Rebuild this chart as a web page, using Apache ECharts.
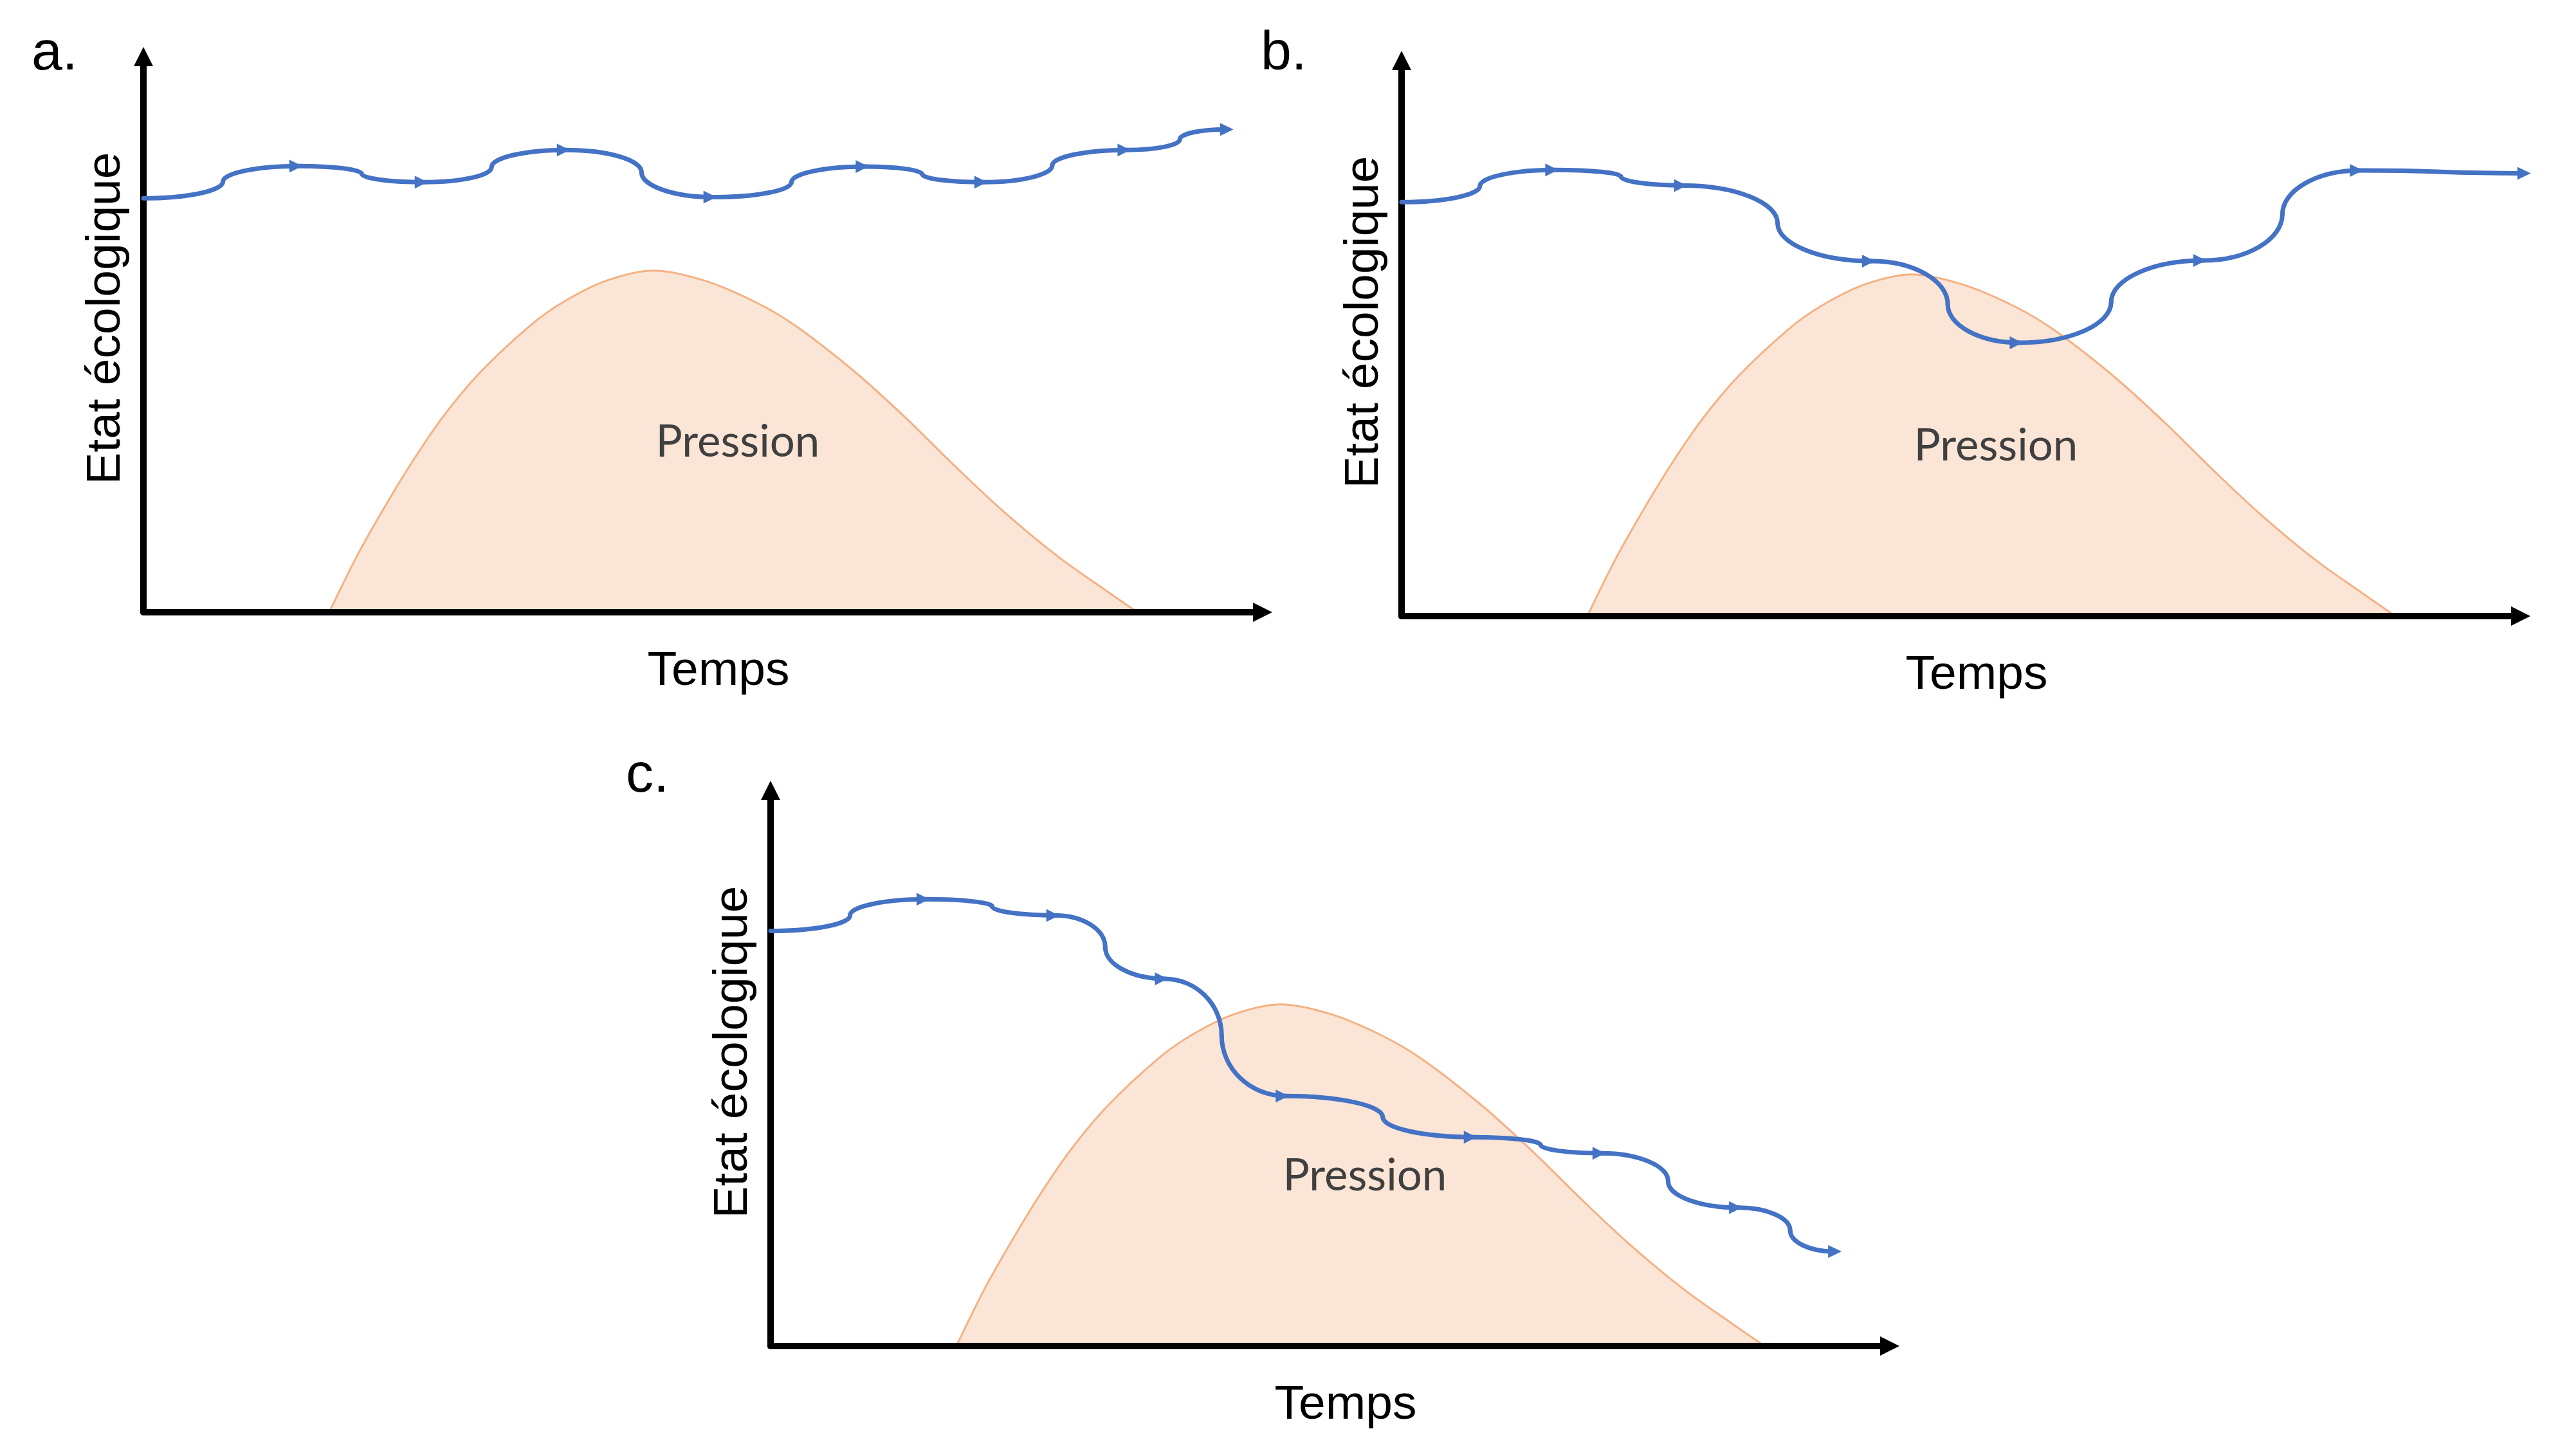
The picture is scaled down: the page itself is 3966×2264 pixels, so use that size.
<!DOCTYPE html>
<html>
<head>
<meta charset="utf-8">
<script src="https://cdn.jsdelivr.net/npm/echarts@6/dist/echarts.min.js"></script>
<style>
html, body { margin: 0; padding: 0; background: #ffffff; }
#chart { width: 3966px; height: 2264px; }
</style>
</head>
<body>
<div id="chart"></div>
<script>
// ---------- data ----------
const panelLabels = ['a.', 'b.', 'c.'];
const xName = 'Temps';
const yName = 'Etat écologique';
const pressureLabel = 'Pression';

// pressure curve (same in every panel)
const pressureX = [16.6, 19.1, 21.4, 23.9, 26.7, 30.1, 34.5, 37.4, 41.4, 45.6, 50.1, 54.8, 58.3, 63.6, 68.1, 72.3, 76.7, 81.6, 86.0, 88.8];
const pressureY = [0, 10.2, 18.4, 26.7, 35.0, 43.2, 51.5, 55.7, 59.7, 61.5, 59.7, 55.7, 51.5, 43.2, 35.0, 26.7, 18.4, 10.2, 3.9, 0];
const pressureLabelPos = [53.1, 30.6];

// ecological state trajectories: s = start, v = turning step, a = arrow, e = end arrow
const aX = [0, 7.1, 13.9, 19.5, 25.1, 31.1, 37.8, 44.5, 50.9, 57.9, 64.5, 69.6, 75.1, 81.2, 87.9, 92.6, 97.4];
const aY = [74.5, 77.5, 80.3, 78.9, 77.4, 80.1, 83.2, 79.2, 74.7, 77.4, 80.2, 78.8, 77.4, 80.4, 83.2, 85.1, 86.9];
const aKind = ['s','v','a','v','a','v','a','v','a','v','a','v','a','v','a','v','e'];

const bX = [0, 7.0, 13.7, 19.6, 25.2, 33.6, 42.0, 48.8, 55.2, 63.4, 71.6, 78.7, 85.6, 100.9];
const bY = [74.5, 77.4, 80.3, 79.1, 77.5, 70.7, 63.9, 56.1, 49.2, 56.5, 64.0, 72.3, 80.2, 79.7];
const bKind = ['s','v','a','v','a','v','a','v','a','v','a','v','a','e'];

const cX = [0, 7.1, 13.9, 19.8, 25.5, 29.9, 35.2, 40.3, 46.0, 54.7, 62.8, 68.8, 74.3, 80.2, 86.5, 91.1, 95.7];
const cY = [74.7, 77.5, 80.4, 79.1, 77.5, 71.8, 66.1, 55.9, 45.0, 41.2, 37.6, 36.2, 34.7, 29.6, 24.9, 20.8, 17.0];
const cKind = ['s','v','a','v','a','v','a','v','a','v','a','v','a','v','a','v','e'];

// ---------- layout / style ----------
const grids = [
  { left: 223, top: 88, width: 1740, height: 864 },
  { left: 2179, top: 94, width: 1740, height: 864 },
  { left: 1198, top: 1229, width: 1740, height: 864 }
];
const labelPos = [[49, 86], [1960, 86], [973, 1209]];
const BLUE = '#4472C4';

function segments(xs, ys, kinds) {
  const tan = k => (k === 'v' ? 1 : 0);
  const mark = k => (k === 'a' ? 1 : (k === 'e' ? 2 : 0));
  const rows = [];
  for (let i = 1; i < xs.length; i++) {
    rows.push([xs[i - 1], ys[i - 1], xs[i], ys[i], tan(kinds[i - 1]), tan(kinds[i]), mark(kinds[i])]);
  }
  return rows;
}

function renderCurve(params, api) {
  const p = api.coord([api.value(0), api.value(1)]);
  const q = api.coord([api.value(2), api.value(3)]);
  const t1 = api.value(4), t2 = api.value(5), m = api.value(6);
  const qq = m === 2 ? [q[0] - 12, q[1]] : [q[0], q[1]];
  const k = 0.55;
  const dx = qq[0] - p[0], dy = qq[1] - p[1];
  const c1 = t1 === 0 ? [p[0] + k * dx, p[1]] : [p[0], p[1] + k * dy];
  const c2 = t2 === 0 ? [qq[0] - k * dx, qq[1]] : [qq[0], qq[1] - k * dy];
  const children = [{
    type: 'bezierCurve',
    shape: { x1: p[0], y1: p[1], x2: qq[0], y2: qq[1], cpx1: c1[0], cpy1: c1[1], cpx2: c2[0], cpy2: c2[1] },
    style: { stroke: BLUE, lineWidth: 7, fill: null, lineCap: 'round' }
  }];
  if (m === 1) {
    children.push({ type: 'polygon', shape: { points: [[q[0] - 15, q[1] - 10], [q[0] - 15, q[1] + 10], [q[0] + 5, q[1]]] }, style: { fill: BLUE } });
  } else if (m === 2) {
    children.push({ type: 'polygon', shape: { points: [[q[0] - 21, q[1] - 10], [q[0] - 21, q[1] + 10], [q[0], q[1]]] }, style: { fill: BLUE } });
  }
  return { type: 'group', children };
}

const pressureData = pressureX.map((x, i) => [x, pressureY[i]]);
const curves = [segments(aX, aY, aKind), segments(bX, bY, bKind), segments(cX, cY, cKind)];

const axisLine = {
  show: true,
  onZero: false,
  symbol: ['none', 'triangle'],
  symbolSize: [30, 30],
  lineStyle: { color: '#000000', width: 10 }
};

const option = {
  backgroundColor: '#ffffff',
  animation: false,
  grid: grids.map(g => Object.assign({ containLabel: false, outerBoundsMode: 'none' }, g)),
  xAxis: grids.map((g, i) => ({
    type: 'value', gridIndex: i, min: 0, max: 100, z: 2,
    axisLine, axisTick: { show: false }, axisLabel: { show: false }, splitLine: { show: false },
    name: xName, nameLocation: 'middle', nameGap: 55, nameMoveOverlap: false,
    nameTextStyle: { fontSize: 75, fontFamily: 'Liberation Sans, Arial, sans-serif', color: '#000000', padding: [0, 0, 0, 48] }
  })),
  yAxis: grids.map((g, i) => ({
    type: 'value', gridIndex: i, min: 0, max: 100, z: 2,
    axisLine, axisTick: { show: false }, axisLabel: { show: false }, splitLine: { show: false },
    name: yName, nameLocation: 'middle', nameGap: 20, nameMoveOverlap: false,
    nameTextStyle: { fontSize: 75, fontFamily: 'Liberation Sans, Arial, sans-serif', color: '#000000', padding: [0, 0, 0, 50] }
  })),
  graphic: panelLabels.map((t, i) => ({
    type: 'text', left: labelPos[i][0], top: labelPos[i][1] - 45,
    style: { text: t, fontSize: 86, fontFamily: 'Liberation Sans, Arial, sans-serif', fill: '#000000' }
  })),
  series: []
};

for (let i = 0; i < 3; i++) {
  option.series.push({
    type: 'line', xAxisIndex: i, yAxisIndex: i, data: pressureData,
    smooth: 0.33, symbol: 'none', silent: true, z: 1,
    lineStyle: { color: '#F4B183', width: 3 },
    areaStyle: { color: '#FBE5D6', opacity: 1 },
    markPoint: {
      symbol: 'rect', symbolSize: [1, 1], silent: true,
      itemStyle: { color: 'rgba(0,0,0,0)' },
      label: { show: true, position: 'inside', formatter: pressureLabel, fontSize: 69, fontFamily: 'Lato, Open Sans, sans-serif', color: '#404040' },
      data: [{ coord: pressureLabelPos }]
    }
  });
  option.series.push({
    type: 'custom', xAxisIndex: i, yAxisIndex: i, data: curves[i],
    renderItem: renderCurve, z: 3, silent: true, clip: false,
    encode: { x: [0, 2], y: [1, 3] }
  });
}

const chart = echarts.init(document.getElementById('chart'), null, { renderer: 'canvas' });
chart.setOption(option);
</script>
</body>
</html>
